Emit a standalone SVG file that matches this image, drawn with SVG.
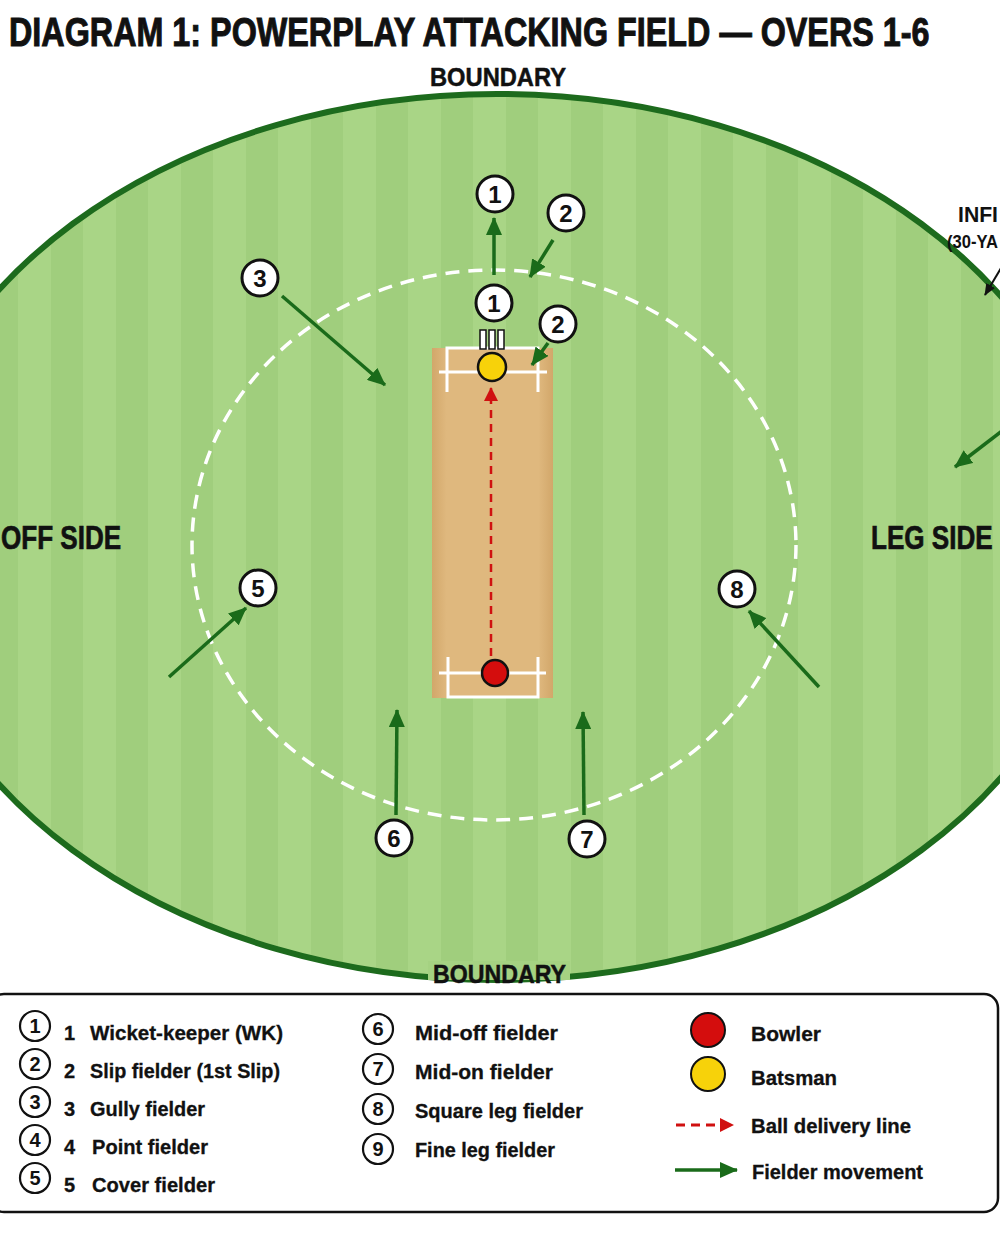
<svg xmlns="http://www.w3.org/2000/svg" width="1000" height="1248" viewBox="0 0 1000 1248">
<style>
.t{font-family:"Liberation Sans",Arial,sans-serif;font-weight:bold;fill:#111}
.fc{fill:#fff;stroke:#111;stroke-width:3}
.fn{font-family:"Liberation Sans",Arial,sans-serif;font-weight:bold;font-size:24px;fill:#111;text-anchor:middle}
.lc{fill:#fff;stroke:#111;stroke-width:2.2}
.ln{font-family:"Liberation Sans",Arial,sans-serif;font-weight:bold;font-size:20px;fill:#111;text-anchor:middle}
.lt{font-family:"Liberation Sans",Arial,sans-serif;font-weight:bold;font-size:20px;fill:#111;stroke:#111;stroke-width:0.3}
.mv{stroke:#1a6b1a;stroke-width:3.5;fill:none;marker-end:url(#ag)}
.cr{stroke:#fff;stroke-width:3;fill:none}
</style>
<defs>
<pattern id="stripes" patternUnits="userSpaceOnUse" x="18" y="0" width="65" height="1248">
<rect x="0" y="0" width="33" height="1248" fill="#a9d586"/>
<rect x="33" y="0" width="32" height="1248" fill="#a0ce7d"/>
</pattern>
<clipPath id="fieldclip"><ellipse cx="497" cy="537" rx="600" ry="443"/></clipPath>
<linearGradient id="pitchg" x1="0" y1="0" x2="1" y2="0">
<stop offset="0" stop-color="#d2a76a"/><stop offset="0.12" stop-color="#dfb87e"/><stop offset="0.88" stop-color="#dfb87e"/><stop offset="1" stop-color="#d2a76a"/>
</linearGradient>
<marker id="ag" markerUnits="userSpaceOnUse" markerWidth="18" markerHeight="16" refX="17" refY="8" orient="auto">
<path d="M0,0 L18,8 L0,16 z" fill="#1a6b1a"/>
</marker>
<marker id="ar" markerUnits="userSpaceOnUse" markerWidth="14" markerHeight="14" refX="13" refY="7" orient="auto">
<path d="M0,0 L14,7 L0,14 z" fill="#d01010"/>
</marker>
<marker id="ab" markerUnits="userSpaceOnUse" markerWidth="12" markerHeight="10" refX="11" refY="5" orient="auto">
<path d="M0,0 L12,5 L0,10 z" fill="#111"/>
</marker>
</defs>
<rect width="1000" height="1248" fill="#fff"/>
<text class="t" transform="translate(9,46) scale(0.808,1)" x="0" y="0" font-size="40" stroke="#111" stroke-width="1">DIAGRAM 1: POWERPLAY ATTACKING FIELD — OVERS 1-6</text>
<text class="t" x="430" y="86" font-size="26" textLength="136" lengthAdjust="spacingAndGlyphs" stroke="#111" stroke-width="0.5">BOUNDARY</text>

<g id="field">
<rect x="-110" y="90" width="1220" height="900" fill="url(#stripes)" clip-path="url(#fieldclip)"/>
<ellipse cx="497" cy="537" rx="600" ry="443" fill="none" stroke="#1d6b1d" stroke-width="6"/>
<ellipse cx="494" cy="545" rx="302" ry="275" fill="none" stroke="#fff" stroke-width="3.5" stroke-dasharray="14 9"/>
<rect x="428" y="961" width="142" height="19" fill="#a5d282"/>
<text class="t" x="433" y="983" font-size="26" textLength="133" lengthAdjust="spacingAndGlyphs" stroke="#111" stroke-width="0.5">BOUNDARY</text>
<text class="t" transform="translate(1,549) scale(0.79,1)" x="0" y="0" font-size="33" stroke="#111" stroke-width="0.7">OFF SIDE</text>
<text class="t" transform="translate(871,549) scale(0.79,1)" x="0" y="0" font-size="33" stroke="#111" stroke-width="0.7">LEG SIDE</text>
<text class="t" x="958" y="222" font-size="22" textLength="40" lengthAdjust="spacingAndGlyphs">INFI</text>
<text class="t" x="947" y="248" font-size="18" textLength="51" lengthAdjust="spacingAndGlyphs">(30-YA</text>
</g>

<g id="pitch">
<rect x="432" y="348" width="121" height="350" fill="url(#pitchg)"/>
<path class="cr" d="M447,392 V348 H538 V392 M439,372 H547"/>
<path class="cr" d="M448,657 V697 H538 V657 M439,673 H546"/>
<g id="stumps" fill="#fff" stroke="#111" stroke-width="1.5">
<rect x="480" y="330" width="6" height="19"/>
<rect x="489" y="330" width="6" height="19"/>
<rect x="498" y="330" width="6" height="19"/>
</g>
</g>

<g id="connectors">
<line x1="491" y1="656" x2="491" y2="388" stroke="#d01010" stroke-width="2.5" stroke-dasharray="8 6" marker-end="url(#ar)"/>
<line class="mv" x1="494" y1="275" x2="494" y2="218"/>
<line class="mv" x1="553" y1="240" x2="530" y2="277"/>
<line class="mv" x1="548" y1="343" x2="532" y2="365"/>
<line class="mv" x1="282" y1="296" x2="385" y2="385"/>
<line class="mv" x1="169" y1="677" x2="246" y2="608"/>
<line class="mv" x1="819" y1="687" x2="749" y2="611"/>
<line class="mv" x1="396" y1="815" x2="397" y2="710"/>
<line class="mv" x1="584" y1="815" x2="583" y2="712"/>
<line class="mv" x1="1002" y1="431" x2="955" y2="467"/>
<line x1="1001" y1="268" x2="985" y2="295" stroke="#111" stroke-width="2" marker-end="url(#ab)"/>
</g>

<g id="batsman"><circle cx="492" cy="367" r="14" fill="#f7d20a" stroke="#111" stroke-width="2.5"/></g>
<g id="bowler"><circle cx="495" cy="673" r="13" fill="#d40d0d" stroke="#111" stroke-width="2.5"/></g>

<g id="f1-out"><circle class="fc" cx="495" cy="194" r="18"/><text class="fn" x="495" y="203">1</text></g>
<g id="f2-out"><circle class="fc" cx="566" cy="213" r="18"/><text class="fn" x="566" y="222">2</text></g>
<g id="f1-in"><circle class="fc" cx="494" cy="303" r="18"/><text class="fn" x="494" y="312">1</text></g>
<g id="f2-in"><circle class="fc" cx="558" cy="324" r="18"/><text class="fn" x="558" y="333">2</text></g>
<g id="f3"><circle class="fc" cx="260" cy="278" r="18"/><text class="fn" x="260" y="287">3</text></g>
<g id="f5"><circle class="fc" cx="258" cy="588" r="18"/><text class="fn" x="258" y="597">5</text></g>
<g id="f8"><circle class="fc" cx="737" cy="589" r="18"/><text class="fn" x="737" y="598">8</text></g>
<g id="f6"><circle class="fc" cx="394" cy="838" r="18"/><text class="fn" x="394" y="847">6</text></g>
<g id="f7"><circle class="fc" cx="587" cy="839" r="18"/><text class="fn" x="587" y="848">7</text></g>

<g id="legend">
<rect x="-10" y="994" width="1008" height="218" rx="14" fill="#fff" stroke="#111" stroke-width="2.5"/>
<g><circle class="lc" cx="35" cy="1026" r="15"/><text class="ln" x="35" y="1033">1</text><text class="lt" x="64" y="1040">1<tspan x="90" textLength="193" lengthAdjust="spacingAndGlyphs">Wicket-keeper (WK)</tspan></text></g>
<g><circle class="lc" cx="35" cy="1064" r="15"/><text class="ln" x="35" y="1071">2</text><text class="lt" x="64" y="1078">2<tspan x="90" textLength="190" lengthAdjust="spacingAndGlyphs">Slip fielder (1st Slip)</tspan></text></g>
<g><circle class="lc" cx="35" cy="1102" r="15"/><text class="ln" x="35" y="1109">3</text><text class="lt" x="64" y="1116">3<tspan x="90" textLength="115" lengthAdjust="spacingAndGlyphs">Gully fielder</tspan></text></g>
<g><circle class="lc" cx="35" cy="1140" r="15"/><text class="ln" x="35" y="1147">4</text><text class="lt" x="64" y="1154">4<tspan x="92" textLength="116" lengthAdjust="spacingAndGlyphs">Point fielder</tspan></text></g>
<g><circle class="lc" cx="35" cy="1178" r="15"/><text class="ln" x="35" y="1185">5</text><text class="lt" x="64" y="1192">5<tspan x="92" textLength="123" lengthAdjust="spacingAndGlyphs">Cover fielder</tspan></text></g>

<g><circle class="lc" cx="378" cy="1029" r="15"/><text class="ln" x="378" y="1036">6</text><text class="lt" x="415" y="1040" textLength="143" lengthAdjust="spacingAndGlyphs">Mid-off fielder</text></g>
<g><circle class="lc" cx="378" cy="1069" r="15"/><text class="ln" x="378" y="1076">7</text><text class="lt" x="415" y="1079" textLength="138" lengthAdjust="spacingAndGlyphs">Mid-on fielder</text></g>
<g><circle class="lc" cx="378" cy="1109" r="15"/><text class="ln" x="378" y="1116">8</text><text class="lt" x="415" y="1118" textLength="168" lengthAdjust="spacingAndGlyphs">Square leg fielder</text></g>
<g><circle class="lc" cx="378" cy="1149" r="15"/><text class="ln" x="378" y="1156">9</text><text class="lt" x="415" y="1157" textLength="140" lengthAdjust="spacingAndGlyphs">Fine leg fielder</text></g>

<g><circle cx="708" cy="1030" r="17" fill="#d40d0d" stroke="#111" stroke-width="2"/><text class="lt" x="751" y="1041" textLength="70" lengthAdjust="spacingAndGlyphs">Bowler</text></g>
<g><circle cx="708" cy="1074" r="17" fill="#f7d20a" stroke="#111" stroke-width="2"/><text class="lt" x="751" y="1085" textLength="86" lengthAdjust="spacingAndGlyphs">Batsman</text></g>
<g><line x1="676" y1="1125" x2="733" y2="1125" stroke="#d01010" stroke-width="3" stroke-dasharray="9 6" marker-end="url(#ar)"/><text class="lt" x="751" y="1133" textLength="160" lengthAdjust="spacingAndGlyphs">Ball delivery line</text></g>
<g><line x1="675" y1="1170" x2="737" y2="1170" stroke="#1a6b1a" stroke-width="3.5" marker-end="url(#ag)"/><text class="lt" x="752" y="1179" textLength="171" lengthAdjust="spacingAndGlyphs">Fielder movement</text></g>
</g>
</svg>
